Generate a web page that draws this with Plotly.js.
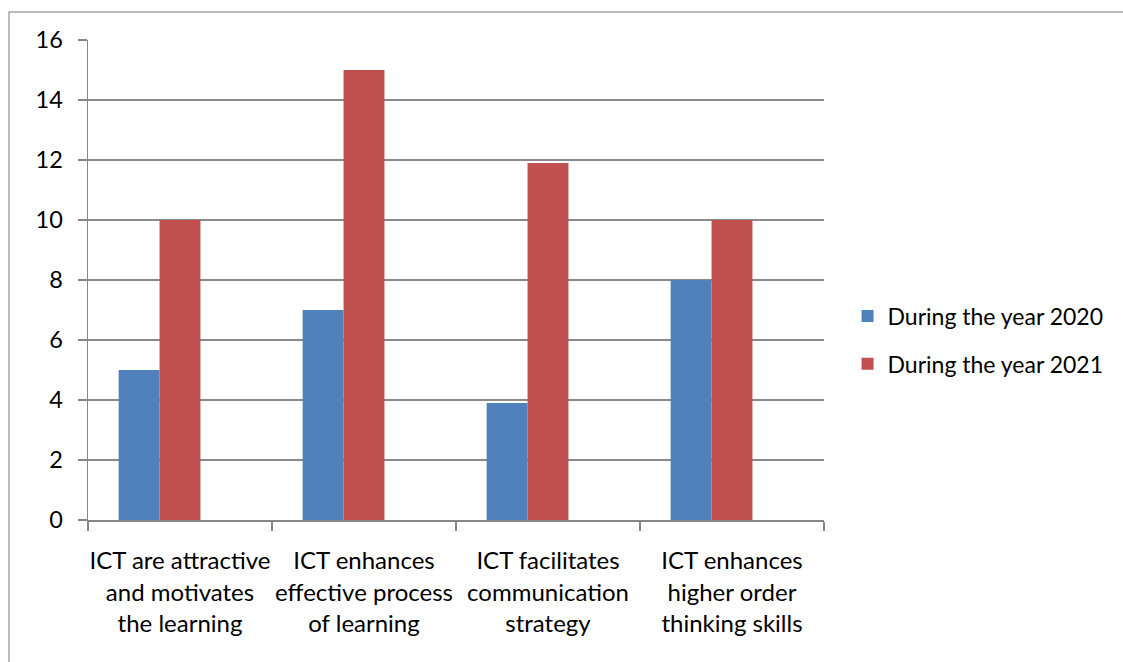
<!DOCTYPE html>
<html>
<head>
<meta charset="utf-8">
<script src="https://cdn.plot.ly/plotly-3.0.1.min.js"></script>
<style>html,body{margin:0;padding:0;background:#fff;}#chart{width:1123px;height:662px;}</style>
</head>
<body>
<div id="chart"></div>
<script>
var categories = [
  "ICT are attractive<br>and motivates<br>the learning",
  "ICT enhances<br>effective process<br>of learning",
  "ICT facilitates<br>communication<br>strategy",
  "ICT enhances<br>higher order<br>thinking skills"
];
var seriesNames = ["During the year 2020", "During the year 2021"];
var values2020 = [5, 7, 3.9, 8];
var values2021 = [10, 15, 11.9, 10];
var yTicks = [0, 2, 4, 6, 8, 10, 12, 14, 16];

var FONT = "Lato, 'Open Sans', sans-serif";
var FS = 23.5;
var barW = 1 / 4.5;

var traces = [
  {type: "bar", name: seriesNames[0], legendgroup: "a", x: categories, y: values2020,
   marker: {color: "#4F81BD"}, width: barW, offset: -0.5 + 0.75 * barW},
  {type: "bar", name: seriesNames[1], legendgroup: "b", x: categories, y: values2021,
   marker: {color: "#C0504D"}, width: barW, offset: -0.5 + 1.75 * barW}
];

var layout = {
  width: 1123, height: 662,
  margin: {l: 88, r: 299, t: 40, b: 142},
  paper_bgcolor: "#fff", plot_bgcolor: "#fff",
  font: {family: FONT, size: FS, color: "#000"},
  showlegend: true,
  legend: {x: 1.032, y: 0.375, xanchor: "left", yanchor: "middle",
           font: {family: FONT, size: 23, color: "#000"}, traceorder: "grouped",
           tracegroupgap: 15, itemwidth: 30, bgcolor: "rgba(0,0,0,0)", borderwidth: 0},
  xaxis: {type: "category", showgrid: false, showline: true, linecolor: "#868686", linewidth: 1.5,
          ticks: "outside", tickson: "boundaries", ticklen: 9, tickcolor: "#868686", tickwidth: 1.5,
          tickangle: 0, automargin: false,
          tickfont: {family: FONT, size: 24, color: "#000"}, ticklabelstandoff: 19, zeroline: false},
  yaxis: {range: [0, 16], tickvals: yTicks, showgrid: true, gridcolor: "#8a8a8a", gridwidth: 1.4,
          showline: true, linecolor: "#868686", linewidth: 1.5, zeroline: false, automargin: false,
          ticks: "outside", ticklen: 9, tickcolor: "#868686", tickwidth: 1.5,
          tickfont: {family: FONT, size: FS, color: "#000"}, ticklabelstandoff: 10},
  shapes: [{type: "rect", xref: "paper", yref: "paper",
            x0: (9 - 88) / 736, x1: 1.6, y0: -0.6, y1: (520 - 12) / 480,
            line: {color: "#a6a6a6", width: 1.5}, fillcolor: "rgba(0,0,0,0)", layer: "below"}]
};

Plotly.newPlot("chart", traces, layout, {displayModeBar: false, staticPlot: true});
</script>
</body>
</html>
